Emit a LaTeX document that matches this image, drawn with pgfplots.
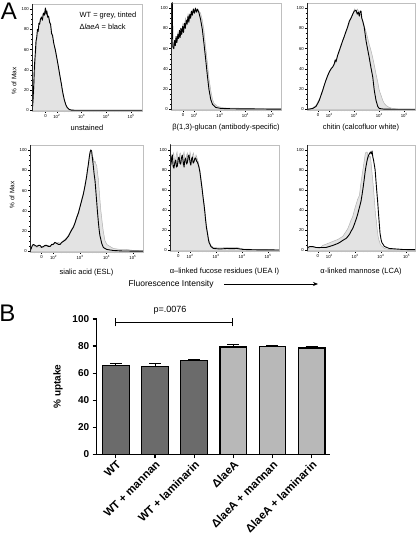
\documentclass[border=0pt]{standalone}
\usepackage{fontspec}
\setmainfont{Liberation Sans}
\usepackage{pgfplots}
\pgfplotsset{compat=1.18}
\usetikzlibrary{arrows.meta}

\pgfplotsset{
 /pgf/number format/assume math mode=true,
 hist/.style={scale only axis, width=110pt, height=107pt, ymin=-0.5, ymax=105,
  axis line style={draw=gray!50, line width=0.5pt},
  tick align=outside, tick style={black, line width=0.3pt},
  major tick length=2pt, minor tick length=1.1pt,
  xtick={1.55,2,3,4,5},
  xticklabels={0,10\textsuperscript{2},10\textsuperscript{3},10\textsuperscript{4},10\textsuperscript{5}},
  minor xtick={1.25,1.40,1.70,1.85,2.301,2.477,2.602,2.699,2.778,2.845,2.903,2.954,3.301,3.477,3.602,3.699,3.778,3.845,3.903,3.954,4.301,4.477,4.602,4.699,4.778,4.845,4.903,4.954,5.301},
  ytick={0,20,...,100}, minor y tick num=3,
  xtick pos=lower, ytick pos=left,
  ticklabel style={font=\fontsize{4.3}{5}\selectfont, inner sep=1pt},
  xlabel style={font=\fontsize{7.5}{9}\selectfont, anchor=center},
 },
 gfill/.style={fill=gray!22, draw=gray!60, line width=0.5pt},
 bline/.style={black, line width=0.9pt, line join=round},
}
\newcommand{\blackL}{\draw[black!85, line width=0.7pt] (rel axis cs:0,1) -- (rel axis cs:0,0) -- (rel axis cs:1,0);}

\begin{document}
\begin{tikzpicture}
\useasboundingbox (0,0) rectangle (416pt,534pt);

% ---------- Panel 1: unstained
\begin{axis}[hist, at={(32pt,423pt)}, anchor=south west, xmin=1.0, xmax=5.44,
  xlabel={unstained}, xlabel style={at={(axis description cs:0.5,-0.16)}}]
\addplot[gfill] coordinates {(1.01,0) (1.05,8) (1.08,20) (1.12,40) (1.16,58) (1.19,70) (1.22,75) (1.25,80) (1.28,84) (1.32,88) (1.36,91) (1.40,93) (1.45,95) (1.50,97) (1.53,96) (1.56,100) (1.60,97) (1.65,93) (1.70,90) (1.75,84) (1.79,78) (1.85,70) (1.92,62) (1.99,54) (2.05,45) (2.12,36) (2.18,26) (2.25,16) (2.32,9) (2.39,4) (2.45,2) (2.52,1) (2.65,0.3) (3,0) (5.44,0)} \closedcycle;
\addplot[bline] coordinates {(1.01,0) (1.04,10) (1.07,25) (1.10,45) (1.13,55) (1.16,68) (1.19,72) (1.22,80) (1.25,78) (1.28,86) (1.31,85) (1.34,90) (1.38,92) (1.42,89) (1.46,96) (1.50,94) (1.54,101) (1.57,95) (1.60,98) (1.63,92) (1.67,93) (1.71,87) (1.75,85) (1.79,76) (1.83,74) (1.88,66) (1.94,60) (2.00,52) (2.06,44) (2.12,35) (2.18,27) (2.24,18) (2.30,11) (2.36,6) (2.42,3) (2.50,1) (2.60,0.3) (3,0.2) (4,0.2) (5.44,0.2)};
\blackL
\end{axis}

% ---------- Panel 2: beta-glucan
\begin{axis}[hist, at={(171pt,424pt)}, anchor=south west, xmin=1.08, xmax=5.4,
  xlabel={β(1,3)-glucan (antibody-specific)}, xlabel style={at={(axis description cs:0.5,-0.165)}}]
\addplot[gfill] coordinates {(1.09,65) (1.15,66) (1.20,64) (1.25,70) (1.30,68) (1.35,76) (1.40,72) (1.45,80) (1.50,77) (1.55,85) (1.60,82) (1.65,90) (1.70,86) (1.75,94) (1.80,90) (1.85,96) (1.90,93) (1.95,99) (2.00,95) (2.05,98) (2.10,96) (2.17,97) (2.24,95) (2.31,88) (2.37,79) (2.44,62) (2.51,46) (2.57,31) (2.64,19) (2.71,10) (2.77,6) (2.91,3) (3.17,1.5) (3.6,1.3) (4.5,0.8) (5.4,0.5)} \closedcycle;
\addplot[bline] coordinates {(1.09,110) (1.13,106) (1.15,62) (1.19,60) (1.22,68) (1.25,63) (1.28,72) (1.31,66) (1.35,74) (1.38,70) (1.41,78) (1.44,71) (1.47,80) (1.50,74) (1.54,82) (1.57,76) (1.61,85) (1.64,80) (1.68,88) (1.71,84) (1.75,92) (1.78,86) (1.82,94) (1.85,90) (1.89,97) (1.92,93) (1.96,99) (2.00,95) (2.04,100) (2.08,96) (2.12,99) (2.17,96) (2.24,89) (2.31,79) (2.37,66) (2.44,50) (2.51,33) (2.57,20) (2.64,10) (2.71,5) (2.84,2) (3.04,1) (3.5,0.7) (4.5,0.5) (5.4,0.3)};
\blackL
\end{axis}

% ---------- Panel 3: chitin
\begin{axis}[hist, at={(307pt,424pt)}, anchor=south west, xmin=1.11, xmax=5.43, width=108pt,
  xlabel={chitin (calcofluor white)}, xlabel style={at={(axis description cs:0.5,-0.165)}}]
\addplot[gfill] coordinates {(1.10,0) (1.30,1) (1.47,4) (1.55,8) (1.62,11) (1.70,17) (1.78,22) (1.87,29) (1.95,34) (2.02,38) (2.10,41) (2.18,43) (2.27,47) (2.35,54) (2.43,59) (2.51,66) (2.58,70) (2.66,76) (2.73,80) (2.80,85) (2.88,91) (2.95,95) (3.01,99) (3.07,96) (3.13,99) (3.20,95) (3.27,93) (3.34,88) (3.40,82) (3.47,77) (3.53,71) (3.60,64) (3.67,58) (3.74,51) (3.80,44) (3.87,35) (3.94,27) (4.00,19) (4.07,14) (4.14,9) (4.20,6) (4.27,4) (4.40,2) (4.54,1) (4.8,0.3) (5.43,0.2)} \closedcycle;
\addplot[bline] coordinates {(1.10,0) (1.34,1) (1.47,3) (1.54,6) (1.60,9) (1.67,14) (1.74,19) (1.80,24) (1.87,29) (1.93,33) (2.00,37) (2.07,40) (2.14,42) (2.20,45) (2.24,49) (2.27,47) (2.33,53) (2.40,58) (2.47,63) (2.54,68) (2.60,72) (2.67,77) (2.73,81) (2.80,87) (2.87,90) (2.94,94) (3.00,97) (3.07,98) (3.12,94) (3.16,96) (3.20,92) (3.24,97) (3.27,97) (3.30,90) (3.34,87) (3.40,81) (3.47,68) (3.53,60) (3.60,51) (3.67,41) (3.74,32) (3.80,19) (3.87,9) (3.94,3) (4.00,1) (4.2,0.3) (5.43,0.2)};
\blackL
\end{axis}

% ---------- Panel 4: sialic acid
\begin{axis}[hist, at={(30pt,282pt)}, anchor=south west, xmin=1.11, xmax=5.38, width=113pt,
  xlabel={sialic acid (ESL)}, xlabel style={at={(axis description cs:0.5,-0.19)}}]
\addplot[gfill] coordinates {(1.14,1) (1.18,5) (1.24,6) (1.30,5) (1.37,4) (1.43,5) (1.49,4) (1.55,5) (1.62,4) (1.68,5) (1.74,5) (1.80,6) (1.87,5) (1.93,6) (1.99,7) (2.05,8) (2.12,8) (2.18,9) (2.25,8) (2.31,9) (2.37,11) (2.43,12) (2.50,14) (2.56,16) (2.62,19) (2.68,22) (2.75,25) (2.81,29) (2.87,34) (2.94,39) (3.00,45) (3.06,51) (3.13,58) (3.19,66) (3.25,74) (3.31,84) (3.36,94) (3.40,100) (3.44,96) (3.47,89) (3.50,92) (3.54,88) (3.57,89) (3.60,86) (3.63,85) (3.66,78) (3.69,72) (3.72,62) (3.75,52) (3.78,42) (3.82,33) (3.85,26) (3.88,20) (3.94,11) (4.01,7) (4.13,5) (4.26,3) (4.51,2) (4.76,2) (5.01,1) (5.38,0.5)} \closedcycle;
\addplot[bline] coordinates {(1.14,2) (1.20,6) (1.24,7) (1.30,6) (1.37,5) (1.43,6) (1.49,6) (1.55,4) (1.62,5) (1.68,6) (1.74,6) (1.80,5) (1.87,5) (1.93,7) (1.99,7) (2.05,9) (2.12,8) (2.18,7) (2.25,7) (2.31,9) (2.37,10) (2.43,11) (2.50,13) (2.56,15) (2.62,18) (2.68,21) (2.75,24) (2.81,28) (2.87,33) (2.94,38) (3.00,44) (3.06,50) (3.13,57) (3.19,65) (3.25,74) (3.28,80) (3.31,85) (3.35,93) (3.38,98) (3.41,100) (3.44,99) (3.47,92) (3.50,85) (3.53,77) (3.57,69) (3.60,59) (3.63,49) (3.66,39) (3.69,30) (3.72,22) (3.75,16) (3.82,8) (3.88,4) (4.01,2) (4.26,1) (4.6,0.5) (5.38,0.3)};
\blackL
\end{axis}

% ---------- Panel 5: fucose
\begin{axis}[hist, at={(170pt,283pt)}, anchor=south west, xmin=1.23, xmax=5.42, width=109pt, height=106pt,
  xlabel={α–linked fucose residues (UEA I)}, xlabel style={at={(axis description cs:0.5,-0.195)}}]
\addplot[gfill] coordinates {(1.23,80) (1.24,84) (1.27,96) (1.30,88) (1.33,94) (1.37,97) (1.40,90) (1.43,86) (1.47,95) (1.50,98) (1.53,90) (1.57,87) (1.60,96) (1.63,97) (1.67,89) (1.70,86) (1.73,94) (1.77,98) (1.80,91) (1.83,88) (1.87,95) (1.90,97) (1.93,90) (1.97,92) (2.00,98) (2.03,94) (2.07,89) (2.10,95) (2.13,97) (2.17,91) (2.20,90) (2.23,95) (2.26,93) (2.29,90) (2.32,88) (2.35,84) (2.38,80) (2.41,74) (2.44,68) (2.47,62) (2.50,55) (2.54,47) (2.57,40) (2.60,32) (2.63,25) (2.67,19) (2.70,14) (2.73,10) (2.77,7) (2.80,5) (2.90,3) (3.15,2.5) (3.41,3) (3.6,2.8) (3.80,3) (4.05,1.5) (4.5,1) (5.42,0.5)} \closedcycle;
\addplot[bline] coordinates {(1.23,108) (1.24,104) (1.26,85) (1.29,90) (1.32,95) (1.35,84) (1.38,82) (1.42,88) (1.45,90) (1.48,83) (1.51,84) (1.55,92) (1.58,93) (1.61,87) (1.64,86) (1.67,92) (1.70,95) (1.74,88) (1.77,83) (1.80,90) (1.83,92) (1.87,86) (1.90,88) (1.93,94) (1.96,95) (2.00,88) (2.03,85) (2.06,91) (2.09,93) (2.12,87) (2.15,88) (2.19,92) (2.22,92) (2.25,89) (2.28,88) (2.31,86) (2.35,82) (2.38,78) (2.41,72) (2.44,66) (2.47,60) (2.50,53) (2.54,45) (2.57,38) (2.60,30) (2.63,23) (2.67,17) (2.70,12) (2.73,8) (2.77,6) (2.80,4) (2.90,2) (3.15,1.5) (3.41,2) (3.6,1.8) (3.80,2) (4.05,1) (4.5,0.7) (5.42,0.5)};
\blackL
\end{axis}

% ---------- Panel 6: mannose
\begin{axis}[hist, at={(307pt,283pt)}, anchor=south west, xmin=1.13, xmax=5.33, width=108pt, height=106pt,
  xlabel={α-linked mannose (LCA)}, xlabel style={at={(axis description cs:0.5,-0.195)}}]
\addplot[gfill] coordinates {(1.16,2) (1.30,3) (1.48,3) (1.61,2) (1.74,5) (1.94,7) (2.13,9) (2.33,11) (2.52,14) (2.65,19) (2.72,22) (2.78,26) (2.84,30) (2.91,34) (2.97,40) (3.04,46) (3.10,51) (3.17,55) (3.21,64) (3.26,73) (3.29,78) (3.32,83) (3.36,90) (3.40,97) (3.44,98) (3.47,98) (3.50,94) (3.53,92) (3.57,94) (3.60,93) (3.63,85) (3.66,77) (3.70,66) (3.73,57) (3.76,47) (3.79,37) (3.83,29) (3.86,21) (3.89,15) (3.92,11) (3.97,7) (4.01,5) (4.14,2) (4.33,1) (4.86,0.5) (5.33,0.3)} \closedcycle;
\addplot[bline] coordinates {(1.16,3) (1.25,4) (1.35,4) (1.48,3) (1.61,3) (1.74,3) (1.87,3) (2.00,4) (2.13,5) (2.23,6) (2.33,7) (2.40,8) (2.46,9) (2.52,10) (2.58,11) (2.65,12) (2.72,14) (2.78,16) (2.84,19) (2.91,22) (2.97,26) (3.04,31) (3.10,36) (3.17,43) (3.23,49) (3.28,57) (3.32,64) (3.36,72) (3.40,80) (3.44,86) (3.47,90) (3.50,93) (3.53,95) (3.57,97) (3.60,98) (3.63,96) (3.66,99) (3.69,93) (3.71,91) (3.75,85) (3.78,80) (3.81,70) (3.84,60) (3.88,48) (3.91,37) (3.94,27) (3.97,17) (4.01,11) (4.04,8) (4.14,4) (4.33,2) (4.86,1) (5.33,0.8)};
\blackL
\end{axis}

% panel A annotations
\node[font=\fontsize{24}{24}\selectfont] at (9pt,523pt) {A};
\node[anchor=west, font=\fontsize{7.5}{9}\selectfont] at (76pt,518pt) {WT = grey, tinted};
\node[anchor=west, font=\fontsize{7.5}{9}\selectfont] at (76pt,507pt) {Δ\textit{laeA} = black};
\node[rotate=90, font=\fontsize{6.5}{8}\selectfont] at (14pt,453pt) {\% of Max};
\node[rotate=90, font=\fontsize{6.5}{8}\selectfont] at (12pt,339pt) {\% of Max};
\node[anchor=west, font=\fontsize{8.5}{10}\selectfont] at (125pt,250pt) {Fluorescence Intensity};
\draw[-{Stealth[length=5pt,width=4pt]}, line width=0.8pt] (224pt,250pt) -- (318pt,250pt);

% ---------- Panel B
\node[font=\fontsize{24}{24}\selectfont] at (7.5pt,220.5pt) {B};
\begin{axis}[at={(96.7pt,79.7pt)}, anchor=south west, scale only axis,
  width=233.3pt, height=135.3pt, xmin=-0.49, xmax=5.47, ymin=0, ymax=100,
  axis x line*=bottom, axis y line*=left,
  axis line style={line width=1.3pt, -},
  ybar, bar width=26.7pt,
  ytick={0,20,...,100}, xtick={0,...,5},
  xticklabels={WT, WT + mannan, WT + laminarin, ΔlaeA, ΔlaeA + mannan, ΔlaeA + laminarin},
  xticklabel style={rotate=45, anchor=north east, font=\bfseries\fontsize{11.3}{13}\selectfont, inner sep=1pt},
  yticklabel style={font=\bfseries\fontsize{10}{12}\selectfont},
  tick style={line width=1.2pt, black}, major tick length=4pt, tick align=outside,
  ylabel={\% uptake}, ylabel style={font=\bfseries\fontsize{10}{12}\selectfont, at={(axis description cs:-0.166,0.5)}, anchor=center},
  clip=false]
\addplot[bar shift=0pt, fill=black!58, draw=black, line width=1.1pt,
  error bars/.cd, y dir=plus, y explicit, error bar style={line width=1pt, black}, error mark options={rotate=90, mark size=6pt, line width=1pt, black}]
  coordinates {(0,65.8) +- (0,1.0) (1,65.2) +- (0,1.6) (2,69.3) +- (0,1.0)};
\addplot[bar shift=0pt, fill=black!28, draw=black, line width=1.1pt,
  error bars/.cd, y dir=plus, y explicit, error bar style={line width=1pt, black}, error mark options={rotate=90, mark size=6pt, line width=1pt, black}]
  coordinates {(3,79.3) +- (0,2.0) (4,79.9) +- (0,0.7) (5,78.6) +- (0,1.0)};
\draw[line width=1.1pt] (axis cs:-0.02,97.6) -- (axis cs:2.98,97.6);
\draw[line width=1.1pt] (axis cs:-0.02,94.5) -- (axis cs:-0.02,100.6);
\draw[line width=1.1pt] (axis cs:2.98,94.5) -- (axis cs:2.98,100.6);
\node[font=\fontsize{9}{10}\selectfont] at (axis cs:1.38,106.6) {p=.0076};
\end{axis}
\end{tikzpicture}
\end{document}
